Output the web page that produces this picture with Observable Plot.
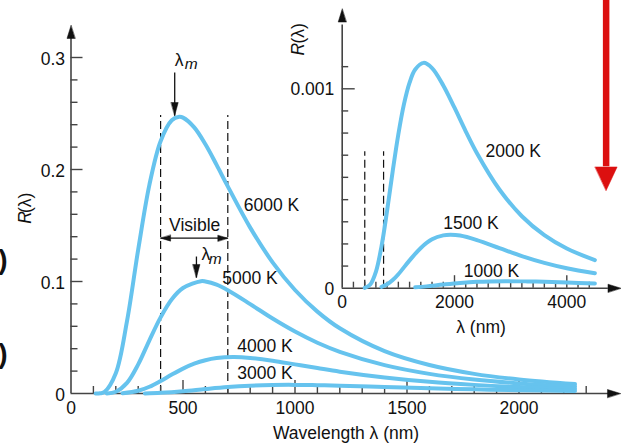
<!DOCTYPE html>
<html><head><meta charset="utf-8">
<script src="https://cdn.jsdelivr.net/npm/d3@7"></script>
<script src="https://cdn.jsdelivr.net/npm/@observablehq/plot@0.6"></script>
<style>
html,body{margin:0;padding:0;background:#fff;}
#wrap{position:relative;width:621px;height:443px;overflow:hidden;background:#fff;}
#wrap svg{position:absolute;left:0;top:0;}
</style></head><body><div id="wrap"></div>
<script>
// ---------------- data ----------------
// main chart: wavelength (nm) and R(λ)
const wl6000 = [110,130,150,200,250,300,350,400,450,483,500,550,600,650,700,800,900,1000,1100,1200,1400,1600,1800,2000,2250];
const r6000  = [0,0.0002,0.0014,0.018,0.0646,0.1285,0.1863,0.2253,0.244,0.247,0.2463,0.2376,0.2225,0.2041,0.1849,0.1481,0.1171,0.0924,0.0731,0.0582,0.0378,0.0254,0.0175,0.0125,0.0084];
const wl5000 = [160,200,250,300,350,400,450,500,580,600,650,700,800,900,1000,1100,1200,1400,1600,1800,2000,2250];
const r5000  = [0.0001,0.0016,0.0095,0.026,0.0475,0.068,0.0842,0.0942,0.1003,0.1,0.0972,0.0922,0.0798,0.0669,0.0553,0.0453,0.0372,0.0253,0.0175,0.0124,0.009,0.0062];
const wl4000 = [230,300,350,400,450,500,550,600,650,725,800,900,1000,1100,1200,1400,1600,1800,2000,2250];
const r4000  = [0.0002,0.0024,0.006,0.0112,0.0169,0.0222,0.0266,0.0297,0.0316,0.0325,0.0318,0.0293,0.026,0.0227,0.0195,0.0143,0.0104,0.0077,0.0057,0.0041];
const wl3000 = [330,400,500,600,700,800,900,1000,1100,1200,1400,1600,1800,2000,2250];
const r3000  = [0.0001,0.0006,0.002,0.004,0.0058,0.007,0.0076,0.0077,0.0074,0.007,0.0058,0.0046,0.0037,0.0029,0.0022];
// inset chart
const wl2000 = [400,500,600,700,800,900,1000,1100,1200,1300,1450,1600,1800,2000,2200,2400,2800,3200,3600,4000,4500];
const r2000  = [0.0000016,0.0000185,0.000082,0.00021,0.00039,0.000588,0.000772,0.000923,0.001031,0.001097,0.00113,0.001104,0.001017,0.000905,0.000787,0.000677,0.000495,0.000361,0.000266,0.000199,0.000141];
const wl1500 = [700,800,900,1000,1200,1400,1600,1800,1930,2100,2400,2800,3200,3600,4000,4500];
const r1500  = [0.0000069,0.0000195,0.0000408,0.0000701,0.0001395,0.000202,0.000245,0.000265,0.000268,0.000264,0.000241,0.000201,0.000161,0.000127,0.0001,0.000075];
const wl1000 = [1300,1500,1800,2100,2400,2900,3300,3600,4000,4500];
const r1000  = [0.0000043,0.0000092,0.0000184,0.0000266,0.0000322,0.0000353,0.000034,0.0000318,0.0000283,0.0000237];

// ticks and labels
const mainXLabels = [0,500,1000,1500,2000];
const mainXMajor  = [500,1000,1500,2000];
const mainXMinor  = [100,200,300,400,600,700,800,900,1100,1200,1300,1400,1600,1700,1800,1900,2100,2200,2300];
const mainYLabels = [0,0.1,0.2,0.3];
const mainYMajor  = [0.1,0.2,0.3];
const mainYMinor  = [0.02,0.04,0.06,0.08,0.12,0.14,0.16,0.18,0.22,0.24,0.26,0.28];
const insetXLabels = [0,2000,4000];
const insetXMajor  = [2000,4000];
const insetXMinor  = [200,400,600,800,1000,1200,1400,1600,1800,2200,2400,2600,2800,3000,3200,3400,3600,3800,4200,4400];
const insetYLabels = [0,0.001];
const insetYMajor  = [0.001];
const insetYMinor  = [0.000111,0.000222,0.000333,0.000444,0.000556,0.000667,0.000778,0.000889,0.001111];
const visibleRange = [400,700];
const insetVisible = [402,737];
const mainNames  = ["6000 K","5000 K","4000 K","3000 K"];
const insetNames = ["2000 K","1500 K","1000 K"];

// ---------------- styling ----------------
const BLUE = "#66c3ee";
const INK = "#111";
const AXIS = "#444";
const RED = "#dc1010";
const FONT = "'Liberation Sans', Arial, Helvetica, sans-serif";
const FS = "17.5px";
const head = (w) => ({draw(ctx, l) { ctx.moveTo(0, -l); ctx.lineTo(-w / 2, 0); ctx.lineTo(w / 2, 0); ctx.closePath(); }});
const rows = (wl, r, name) => wl.map((w, i) => ({wl: w, r: r[i], name}));
const fmt = d => String(d);

const mainSeries = [
  ...rows(wl6000, r6000, mainNames[0]), ...rows(wl5000, r5000, mainNames[1]),
  ...rows(wl4000, r4000, mainNames[2]), ...rows(wl3000, r3000, mainNames[3])
];
const insetSeries = [
  ...rows(wl2000, r2000, insetNames[0]), ...rows(wl1500, r1500, insetNames[1]), ...rows(wl1000, r1000, insetNames[2])
];

// annotation anchors (data coordinates)
const mainLabelPos = [
  {t: mainNames[0], x: 771, y: 0.1676},
  {t: mainNames[1], x: 675, y: 0.1028},
  {t: mainNames[2], x: 742, y: 0.0417},
  {t: mainNames[3], x: 742, y: 0.0179}
];
const lambdaM = [{x: 463, y: 0.2977, mx: 508, my: 0.2942}, {x: 583, y: 0.1242, mx: 615, my: 0.1205}];
const lmArrows = [{x: 463, y1: 0.2866, y2: 0.2482}, {x: 560, y1: 0.1223, y2: 0.1036}];
const visArrowY = 0.1387;

const main = Plot.plot({
  width: 621, height: 443,
  marginLeft: 70.5, marginRight: 1.7, marginTop: 23.4, marginBottom: 50,
  x: {domain: [0, 2450], label: null},
  y: {domain: [0, 0.33], label: null},
  style: {background: "#fff", fontFamily: FONT, fontSize: FS, color: INK, overflow: "visible"},
  marks: [
    Plot.ruleX(visibleRange, {y1: 0, y2: 0.2482, stroke: INK, strokeWidth: 1.2, strokeDasharray: "8,4"}),
    Plot.ruleY([0], {x1: 0, x2: 2400, stroke: AXIS, strokeWidth: 1.6}),
    Plot.ruleX([0], {y1: 0, y2: 0.318, stroke: AXIS, strokeWidth: 1.6}),
    Plot.vector([{x: 2453, y: 0, rot: 90}, {x: 0, y: 0.3286, rot: 0}], {x: "x", y: "y", rotate: "rot", length: 13, anchor: "end", shape: head(8), fill: INK, stroke: INK, strokeWidth: 0.5}),
    Plot.axisX({ticks: mainXMinor, tickSize: -7, fill: "none", stroke: AXIS, strokeWidth: 1.4, label: null}),
    Plot.axisX({ticks: mainXMajor, tickSize: -13, fill: "none", stroke: AXIS, strokeWidth: 1.4, label: null}),
    Plot.axisX({ticks: mainXLabels, tickSize: 0, tickPadding: 8, tickFormat: fmt, fill: INK, label: null}),
    Plot.axisY({ticks: mainYMinor, tickSize: -7, fill: "none", stroke: AXIS, strokeWidth: 1.4, label: null}),
    Plot.axisY({ticks: mainYMajor, tickSize: -12, fill: "none", stroke: AXIS, strokeWidth: 1.4, label: null}),
    Plot.axisY({ticks: mainYLabels, tickSize: 0, tickPadding: 6, dy: 2, tickFormat: fmt, fill: INK, label: null}),
    Plot.line(mainSeries, {x: "wl", y: "r", z: "name", stroke: BLUE, strokeWidth: 4, curve: "catmull-rom"}),
    // curve labels
    Plot.text(mainLabelPos, {x: "x", y: "y", text: "t", textAnchor: "start", fill: INK}),
    // visible arrow
    Plot.link([visibleRange], {x1: d => d[0], x2: d => d[1], y1: visArrowY, y2: visArrowY, stroke: INK, strokeWidth: 1.3}),
    Plot.vector([{x: visibleRange[0], rot: 270}, {x: visibleRange[1], rot: 90}], {x: "x", y: visArrowY, rotate: "rot", length: 10, anchor: "end", shape: head(6), fill: INK, stroke: INK, strokeWidth: 0.5}),
    Plot.text(["Visible"], {x: 552, y: 0.1504, text: d => d, textAnchor: "middle", fill: INK}),
    // lambda_m markers
    Plot.link(lmArrows, {x1: "x", x2: "x", y1: "y1", y2: "y2", stroke: INK, strokeWidth: 1.3}),
    Plot.vector(lmArrows, {x: "x", y: "y2", rotate: 180, length: 13, anchor: "end", shape: head(7), fill: INK, stroke: INK, strokeWidth: 0.5}),
    Plot.text(lambdaM, {x: "x", y: "y", text: () => "λ", textAnchor: "start", fill: INK}),
    Plot.text(lambdaM, {x: "mx", y: "my", text: () => "m", textAnchor: "start", fontStyle: "italic", fontSize: 15.5, fill: INK}),
    // axis titles
    Plot.text(["R"], {x: -203, y: 0.1515, text: d => d, rotate: -90, textAnchor: "start", fontStyle: "italic", fill: INK}),
    Plot.text(["(λ)"], {x: -203, y: 0.1612, text: d => d, rotate: -90, textAnchor: "start", fill: INK}),
    Plot.text(["Wavelength λ (nm)"], {x: 1228, y: -0.0354, text: d => d, textAnchor: "middle", fill: INK}),
    // red arrow at right edge and cropped glyphs at left edge
    Plot.link([2389], {x1: d => d, x2: d => d, y1: 0.37, y2: 0.203, stroke: RED, strokeWidth: 6.5}),
    Plot.vector([2389], {x: d => d, y: 0.1813, rotate: 180, length: 23.5, anchor: "end", shape: head(22), fill: RED, stroke: RED, strokeWidth: 0.5}),
    Plot.text([0.1196, 0.0348], {x: -283, y: d => d, text: () => ")", textAnchor: "end", fontSize: 28, fontWeight: "bold", fill: INK})
  ]
});

const inset = Plot.plot({
  width: 621, height: 443,
  marginLeft: 341.7, marginRight: 0.8, marginTop: 8.54, marginBottom: 155.3,
  x: {domain: [0, 4960], label: null},
  y: {domain: [0, 0.0014], label: null},
  style: {background: "transparent", fontFamily: FONT, fontSize: FS, color: INK, overflow: "visible"},
  marks: [
    Plot.ruleX(insetVisible, {y1: 0, y2: 0.000684, stroke: INK, strokeWidth: 1.2, strokeDasharray: "8,4"}),
    Plot.ruleY([0], {x1: 0, x2: 4740, stroke: AXIS, strokeWidth: 1.6}),
    Plot.ruleX([0], {y1: 0, y2: 0.00132, stroke: AXIS, strokeWidth: 1.6}),
    Plot.vector([{x: 4965, y: 0, rot: 90}, {x: 0, y: 0.0014, rot: 0}], {x: "x", y: "y", rotate: "rot", length: 13, anchor: "end", shape: head(8), fill: INK, stroke: INK, strokeWidth: 0.5}),
    Plot.axisX({ticks: insetXMinor, tickSize: -6, fill: "none", stroke: AXIS, strokeWidth: 1.4, label: null}),
    Plot.axisX({ticks: insetXMajor, tickSize: -12.5, fill: "none", stroke: AXIS, strokeWidth: 1.4, label: null}),
    Plot.axisX({ticks: insetXLabels, tickSize: 0, tickPadding: 7.5, tickFormat: fmt, fill: INK, label: null}),
    Plot.axisY({ticks: insetYMinor, tickSize: -6.5, fill: "none", stroke: AXIS, strokeWidth: 1.4, label: null}),
    Plot.axisY({ticks: insetYMajor, tickSize: -13, fill: "none", stroke: AXIS, strokeWidth: 1.4, label: null}),
    Plot.axisY({ticks: insetYLabels, tickSize: 0, tickPadding: 8, dy: 1, tickFormat: fmt, fill: INK, label: null}),
    Plot.line(insetSeries, {x: "wl", y: "r", z: "name", stroke: BLUE, strokeWidth: 4, curve: "catmull-rom"}),
    Plot.text([
      {t: insetNames[0], x: 2552, y: 0.000684},
      {t: insetNames[1], x: 1799, y: 0.000325},
      {t: insetNames[2], x: 2166, y: 0.0000822}
    ], {x: "x", y: "y", text: "t", textAnchor: "start", fill: INK}),
    Plot.text(["R"], {x: -773, y: 0.001167, text: d => d, rotate: -90, textAnchor: "start", fontStyle: "italic", fill: INK}),
    Plot.text(["(λ)"], {x: -773, y: 0.001227, text: d => d, rotate: -90, textAnchor: "start", fill: INK}),
    Plot.text(["λ (nm)"], {x: 2472, y: -0.000195, text: d => d, textAnchor: "middle", fill: INK})
  ]
});

const wrap = document.getElementById("wrap");
wrap.appendChild(main);
wrap.appendChild(inset);
</script></body></html>
